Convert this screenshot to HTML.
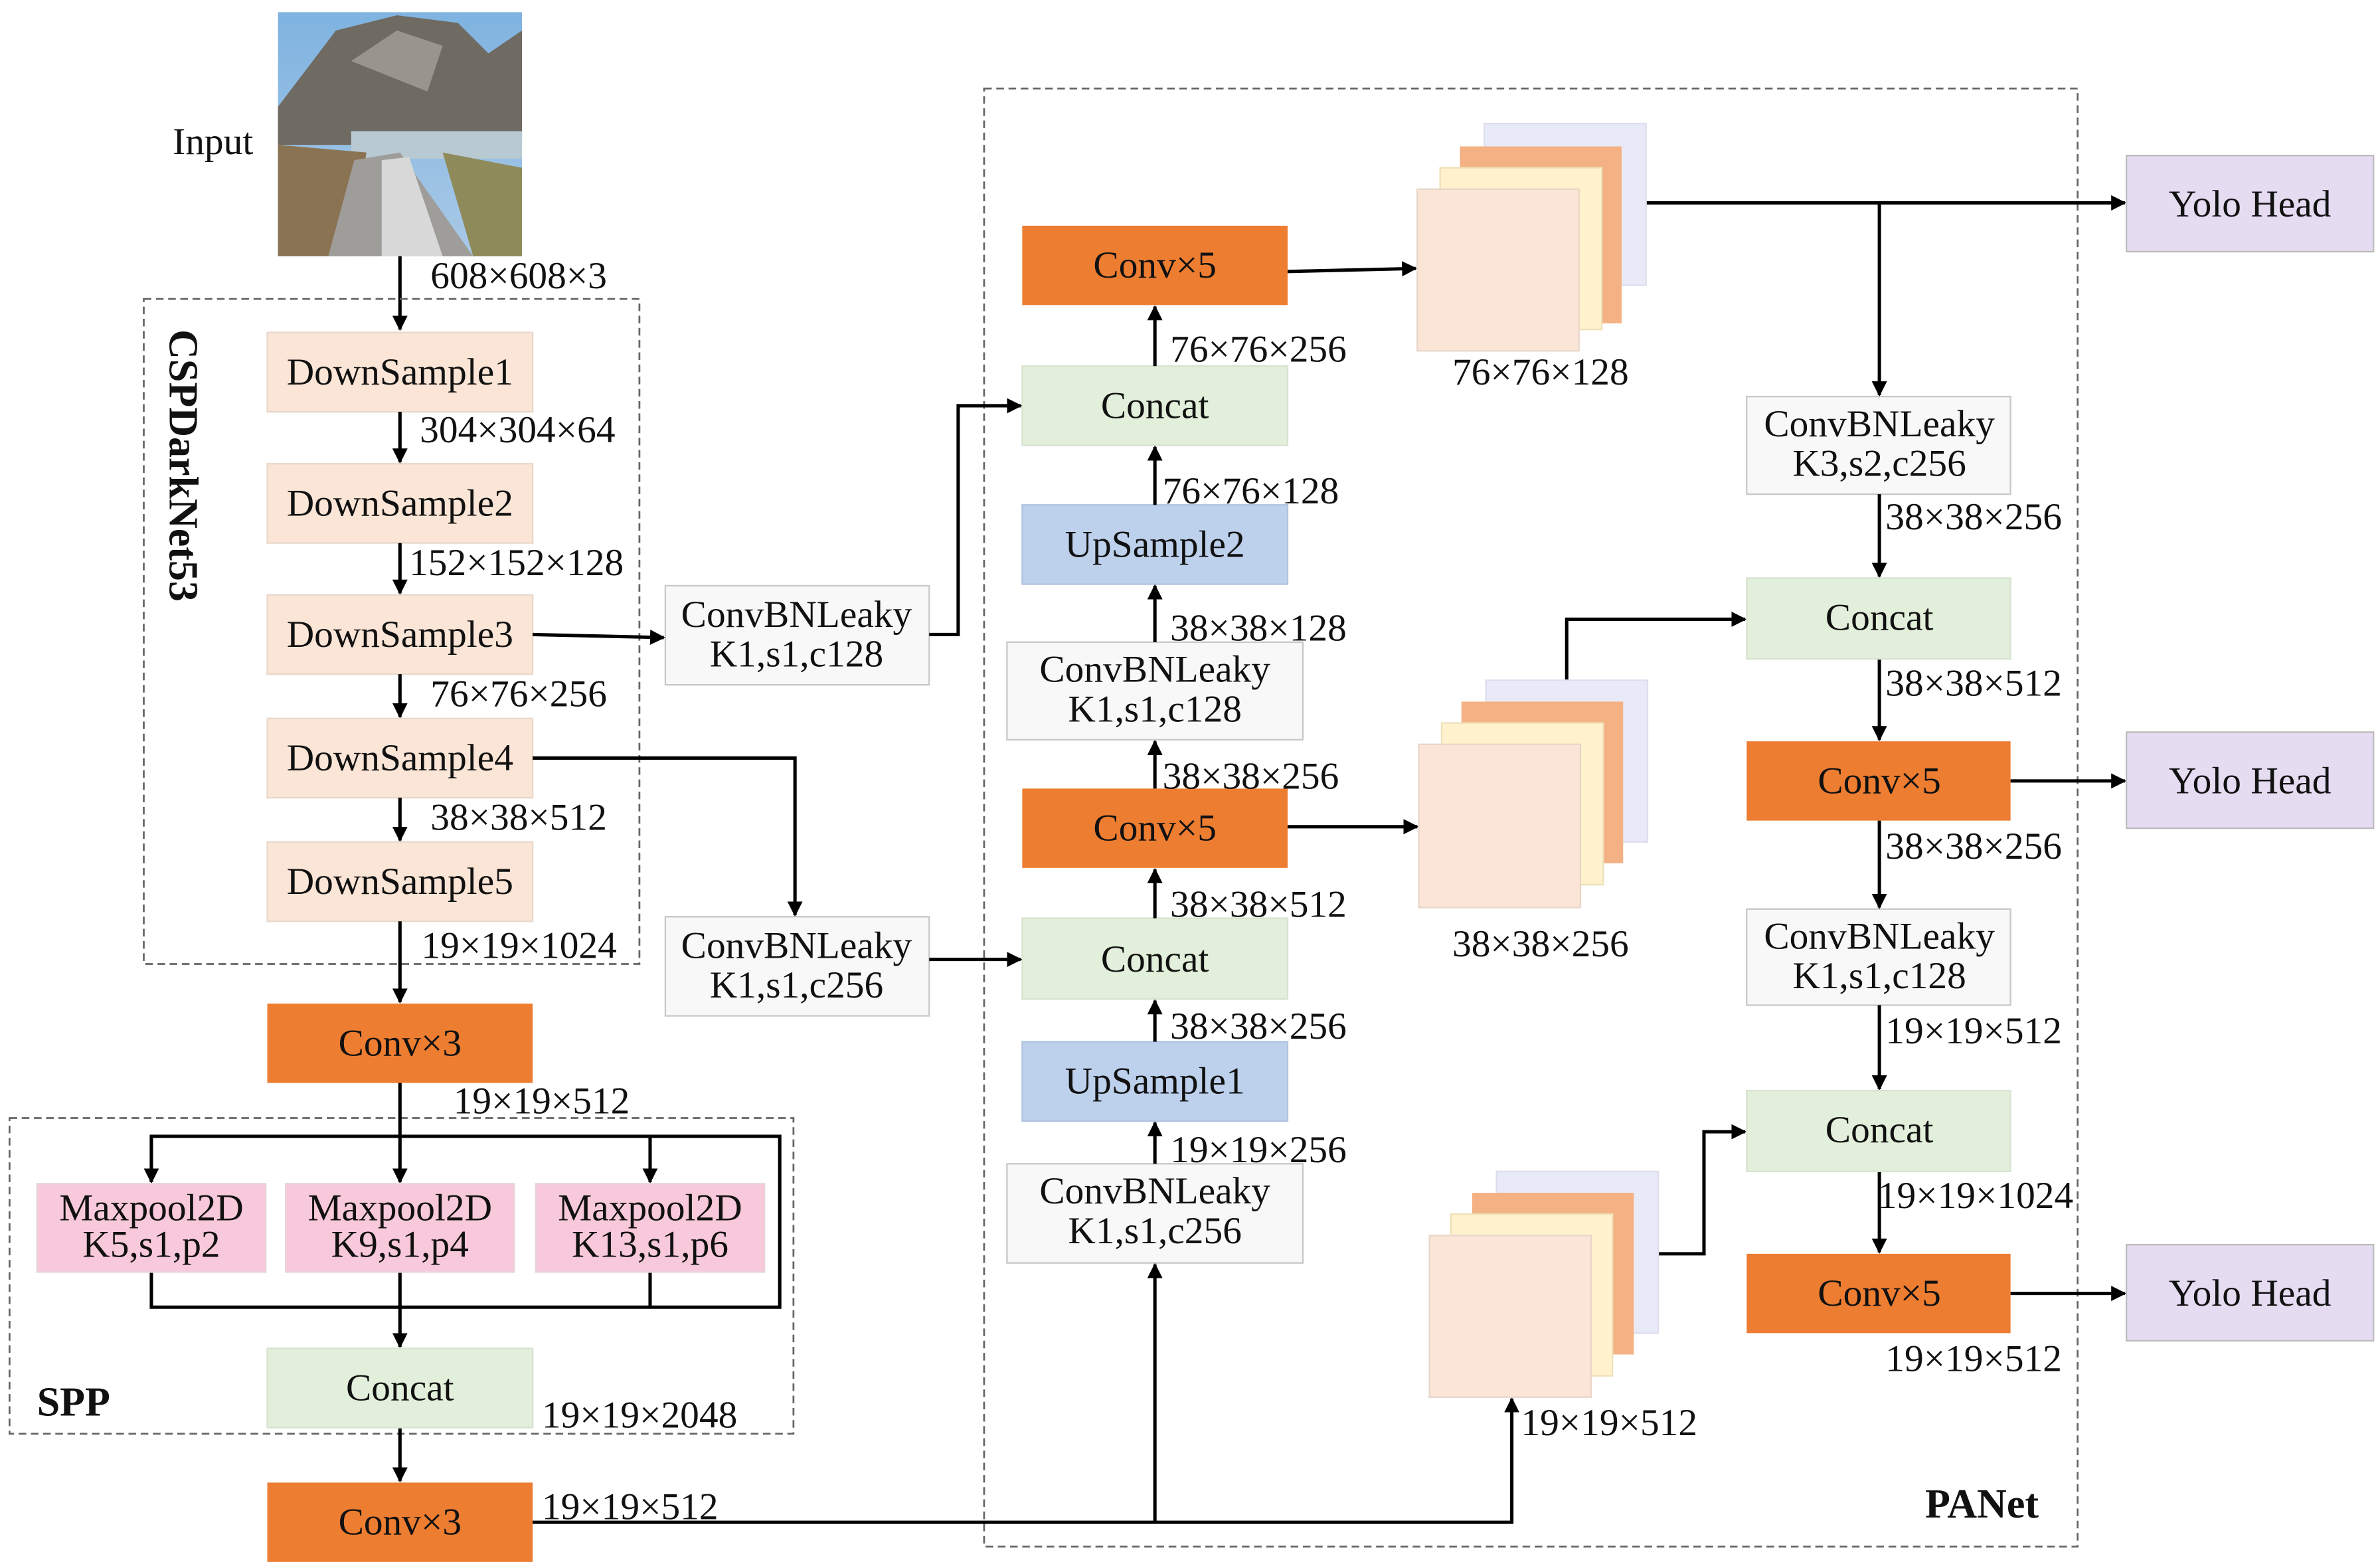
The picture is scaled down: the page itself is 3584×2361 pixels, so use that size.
<!DOCTYPE html>
<html><head><meta charset="utf-8"><style>
html,body{margin:0;padding:0;background:#fff;}
svg{display:block;}
text{font-family:"Liberation Serif",serif;font-size:25px;fill:#111;}
.c{text-anchor:middle;}
</style></head><body>
<svg width="3584" height="2361" viewBox="0 0 1560 1028" xmlns="http://www.w3.org/2000/svg">
<defs>
<marker id="a" markerWidth="10" markerHeight="10" refX="9" refY="5" orient="auto" markerUnits="userSpaceOnUse"><path d="M0,0 L10,5 L0,10 z" fill="#000"/></marker>
<linearGradient id="sky" x1="0" y1="0" x2="0" y2="1"><stop offset="0" stop-color="#7fb3e0"/><stop offset="1" stop-color="#a9c9e6"/></linearGradient>
</defs>
<rect width="1560" height="1028" fill="#fff"/>
<text x="113" y="101">Input</text>
<rect x="182" y="8" width="160" height="160" fill="url(#sky)"/>
<path d="M182,70 L220,20 L260,10 L300,15 L320,35 L342,20 L342,95 L182,95 z" fill="#6f6a62"/>
<path d="M230,40 L260,20 L290,30 L280,60 z" fill="#9a958c"/>
<rect x="230" y="86" width="112" height="18" fill="#b8c9d2"/>
<path d="M182,95 L240,100 L230,168 L182,168 z" fill="#8a7352"/>
<path d="M290,100 L342,110 L342,168 L310,168 z" fill="#8f8a5a"/>
<path d="M232,105 L262,100 L310,168 L215,168 z" fill="#9e9d9a"/>
<path d="M250,105 L268,103 L290,168 L250,168 z" fill="#d8d8d8"/>
<text x="282" y="189">608×608×3</text>
<line x1="262" y1="168" x2="262" y2="216" stroke="#000" stroke-width="2.2" marker-end="url(#a)"/>
<rect x="94" y="196" width="325" height="436" fill="none" stroke="#666" stroke-width="1.2" stroke-dasharray="5,3"/>
<text transform="translate(111,216) rotate(90)" style="font-weight:bold;font-size:27px">CSPDarkNet53</text>
<g fill="#fbe5d6" stroke="#e8d8cc">
<rect x="175" y="218" width="174" height="52"/><rect x="175" y="304" width="174" height="52"/><rect x="175" y="390" width="174" height="52"/><rect x="175" y="471" width="174" height="52"/><rect x="175" y="552" width="174" height="52"/>
</g>
<text class="c" x="262" y="252">DownSample1</text>
<text class="c" x="262" y="338">DownSample2</text>
<text class="c" x="262" y="424">DownSample3</text>
<text class="c" x="262" y="505">DownSample4</text>
<text class="c" x="262" y="586">DownSample5</text>
<g stroke="#000" stroke-width="2.2" fill="none" marker-end="url(#a)">
<line x1="262" y1="270" x2="262" y2="303"/><line x1="262" y1="356" x2="262" y2="389"/><line x1="262" y1="442" x2="262" y2="470"/><line x1="262" y1="523" x2="262" y2="551"/><line x1="262" y1="604" x2="262" y2="657"/>
</g>
<text x="275" y="290">304×304×64</text>
<text x="268" y="377">152×152×128</text>
<text x="282" y="463">76×76×256</text>
<text x="282" y="544">38×38×512</text>
<text x="276" y="628">19×19×1024</text>
<rect x="175" y="658" width="174" height="52" fill="#ed7d31"/>
<text class="c" x="262" y="692">Conv×3</text>
<text x="297" y="730">19×19×512</text>
<rect x="6" y="733" width="514" height="207" fill="none" stroke="#666" stroke-width="1.2" stroke-dasharray="5,3"/>
<text x="24" y="928" style="font-weight:bold;font-size:27px">SPP</text>
<g stroke="#000" stroke-width="2.2" fill="none">
<polyline points="99,775 99,745 511,745 511,857 99,857 99,834"/>
<line x1="426" y1="834" x2="426" y2="857"/><line x1="262" y1="834" x2="262" y2="857"/>
</g>
<g stroke="#000" stroke-width="2.2" marker-end="url(#a)">
<line x1="262" y1="710" x2="262" y2="775"/><line x1="99" y1="745" x2="99" y2="775"/><line x1="426" y1="745" x2="426" y2="775"/><line x1="262" y1="857" x2="262" y2="883"/><line x1="262" y1="936" x2="262" y2="971"/>
</g>
<g fill="#f8c9da" stroke="#e6d6dc"><rect x="24" y="776" width="150" height="58"/><rect x="187" y="776" width="150" height="58"/><rect x="351" y="776" width="150" height="58"/></g>
<text class="c" x="99" y="800">Maxpool2D</text><text class="c" x="99" y="824">K5,s1,p2</text>
<text class="c" x="262" y="800">Maxpool2D</text><text class="c" x="262" y="824">K9,s1,p4</text>
<text class="c" x="426" y="800">Maxpool2D</text><text class="c" x="426" y="824">K13,s1,p6</text>
<rect x="175" y="884" width="174" height="52" fill="#e2efda" stroke="#d8e2d2"/>
<text class="c" x="262" y="918">Concat</text>
<text x="355" y="936">19×19×2048</text>
<rect x="175" y="972" width="174" height="52" fill="#ed7d31"/>
<text class="c" x="262" y="1006">Conv×3</text>
<text x="355" y="996">19×19×512</text>
<g fill="#f8f8f8" stroke="#c8c8c8">
<rect x="436" y="384" width="173" height="65"/><rect x="436" y="601" width="173" height="65"/>
<rect x="660" y="421" width="194" height="64"/><rect x="660" y="763" width="194" height="65"/>
<rect x="1145" y="260" width="173" height="64"/><rect x="1145" y="596" width="173" height="63"/>
</g>
<text class="c" x="522" y="411">ConvBNLeaky</text><text class="c" x="522" y="437">K1,s1,c128</text>
<text class="c" x="522" y="628">ConvBNLeaky</text><text class="c" x="522" y="654">K1,s1,c256</text>
<text class="c" x="757" y="447">ConvBNLeaky</text><text class="c" x="757" y="473">K1,s1,c128</text>
<text class="c" x="757" y="789">ConvBNLeaky</text><text class="c" x="757" y="815">K1,s1,c256</text>
<text class="c" x="1232" y="286">ConvBNLeaky</text><text class="c" x="1232" y="312">K3,s2,c256</text>
<text class="c" x="1232" y="622">ConvBNLeaky</text><text class="c" x="1232" y="648">K1,s1,c128</text>
<rect x="645" y="58" width="717" height="956" fill="none" stroke="#666" stroke-width="1.2" stroke-dasharray="5,3"/>
<text x="1262" y="995" style="font-weight:bold;font-size:27px">PANet</text>
<g>
<rect x="670" y="148" width="174" height="52" fill="#ed7d31"/>
<rect x="670" y="240" width="174" height="52" fill="#e2efda" stroke="#d8e2d2"/>
<rect x="670" y="331" width="174" height="52" fill="#bdd0ec" stroke="#b0c4e0"/>
<rect x="670" y="517" width="174" height="52" fill="#ed7d31"/>
<rect x="670" y="602" width="174" height="53" fill="#e2efda" stroke="#d8e2d2"/>
<rect x="670" y="683" width="174" height="52" fill="#bdd0ec" stroke="#b0c4e0"/>
</g>
<text class="c" x="757" y="182">Conv×5</text>
<text class="c" x="757" y="274">Concat</text>
<text class="c" x="757" y="365">UpSample2</text>
<text class="c" x="757" y="551">Conv×5</text>
<text class="c" x="757" y="637">Concat</text>
<text class="c" x="757" y="717">UpSample1</text>
<g stroke="#000" stroke-width="2.2" marker-end="url(#a)">
<line x1="757" y1="998" x2="757" y2="829"/>
<line x1="757" y1="763" x2="757" y2="736"/>
<line x1="757" y1="683" x2="757" y2="656"/>
<line x1="757" y1="602" x2="757" y2="570"/>
<line x1="757" y1="517" x2="757" y2="486"/>
<line x1="757" y1="421" x2="757" y2="384"/>
<line x1="757" y1="331" x2="757" y2="293"/>
<line x1="757" y1="240" x2="757" y2="201"/>
</g>
<text x="767" y="762">19×19×256</text>
<text x="767" y="681">38×38×256</text>
<text x="767" y="601">38×38×512</text>
<text x="762" y="517">38×38×256</text>
<text x="767" y="420">38×38×128</text>
<text x="762" y="330">76×76×128</text>
<text x="767" y="237">76×76×256</text>
<g stroke="#000" stroke-width="2.2" fill="none" marker-end="url(#a)">
<line x1="349" y1="416" x2="435" y2="418"/>
<polyline points="609,416 628,416 628,266 669,266"/>
<polyline points="349,497 521,497 521,600"/>
<line x1="609" y1="629" x2="669" y2="629"/>
<polyline points="349,998 991,998 991,917"/>
<line x1="844" y1="178" x2="928" y2="176"/>
<line x1="844" y1="542" x2="929" y2="542"/>
<line x1="1079" y1="133" x2="1393" y2="133"/>
<line x1="1232" y1="133" x2="1232" y2="259"/>
<line x1="1232" y1="324" x2="1232" y2="378"/>
<polyline points="1027,446 1027,406 1144,406"/>
<line x1="1232" y1="432" x2="1232" y2="485"/>
<line x1="1318" y1="512" x2="1393" y2="512"/>
<line x1="1232" y1="538" x2="1232" y2="595"/>
<line x1="1232" y1="659" x2="1232" y2="714"/>
<polyline points="1087,822 1117,822 1117,742 1144,742"/>
<line x1="1232" y1="768" x2="1232" y2="821"/>
<line x1="1318" y1="848" x2="1393" y2="848"/>
</g>
<g>
<rect x="973" y="81" width="106" height="106" fill="#e8ebf7" stroke="#dde"/>
<rect x="957" y="96" width="106" height="116" fill="#f4b183"/>
<rect x="944" y="110" width="106" height="106" fill="#fff2cc" stroke="#eee0b8"/>
<rect x="929" y="124" width="106" height="106" fill="#fbe5d6" stroke="#e8d6ca"/>
</g>
<text x="952" y="252">76×76×128</text>
<g>
<rect x="974" y="446" width="106" height="106" fill="#e8ebf7" stroke="#dde"/>
<rect x="958" y="460" width="106" height="106" fill="#f4b183"/>
<rect x="945" y="474" width="106" height="106" fill="#fff2cc" stroke="#eee0b8"/>
<rect x="930" y="488" width="106" height="107" fill="#fbe5d6" stroke="#e8d6ca"/>
</g>
<text x="952" y="627">38×38×256</text>
<g>
<rect x="981" y="768" width="106" height="106" fill="#e8ebf7" stroke="#dde"/>
<rect x="965" y="782" width="106" height="106" fill="#f4b183"/>
<rect x="951" y="796" width="106" height="106" fill="#fff2cc" stroke="#eee0b8"/>
<rect x="937" y="810" width="106" height="106" fill="#fbe5d6" stroke="#e8d6ca"/>
</g>
<text x="997" y="941">19×19×512</text>
<rect x="1145" y="379" width="173" height="53" fill="#e2efda" stroke="#d8e2d2"/>
<rect x="1145" y="486" width="173" height="52" fill="#ed7d31"/>
<rect x="1145" y="715" width="173" height="53" fill="#e2efda" stroke="#d8e2d2"/>
<rect x="1145" y="822" width="173" height="52" fill="#ed7d31"/>
<text class="c" x="1232" y="413">Concat</text>
<text class="c" x="1232" y="520">Conv×5</text>
<text class="c" x="1232" y="749">Concat</text>
<text class="c" x="1232" y="856">Conv×5</text>
<text x="1236" y="347">38×38×256</text>
<text x="1236" y="456">38×38×512</text>
<text x="1236" y="563">38×38×256</text>
<text x="1236" y="684">19×19×512</text>
<text x="1231" y="792">19×19×1024</text>
<text x="1236" y="899">19×19×512</text>
<g fill="#e6dcf2" stroke="#bbb"><rect x="1394" y="102" width="162" height="63"/><rect x="1394" y="480" width="162" height="63"/><rect x="1394" y="816" width="162" height="63"/></g>
<text class="c" x="1475" y="142">Yolo Head</text>
<text class="c" x="1475" y="520">Yolo Head</text>
<text class="c" x="1475" y="856">Yolo Head</text>
</svg>
</body></html>
